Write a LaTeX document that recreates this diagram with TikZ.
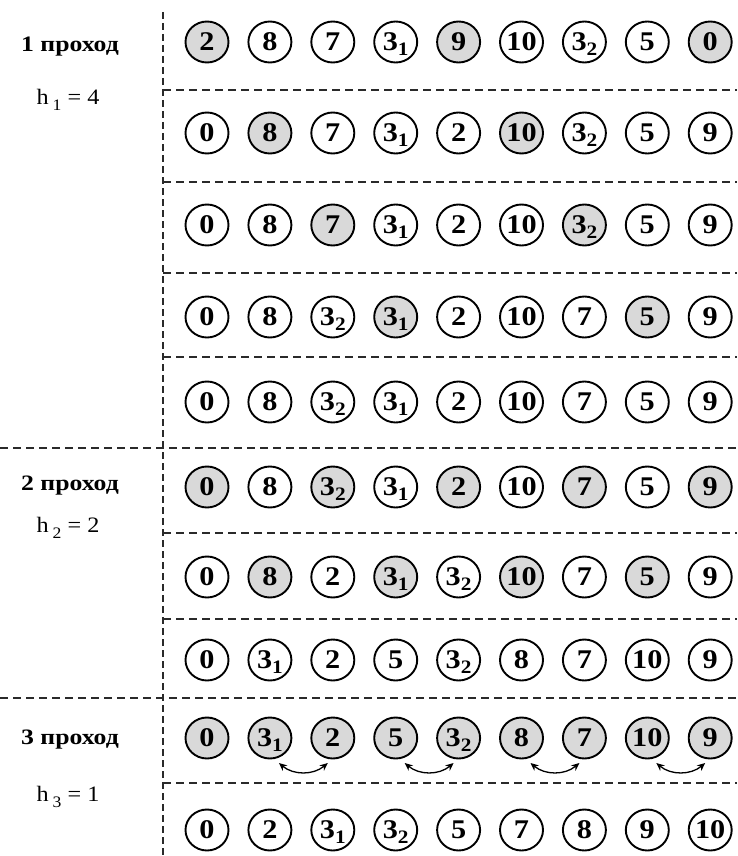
\documentclass[tikz,border=0pt]{standalone}
\usepackage{fontspec}
\setmainfont{Liberation Serif}
\usetikzlibrary{arrows.meta,shapes.geometric}
\newcommand{\sbi}[1]{\smash{\raisebox{-0.17em}{\fontsize{19}{19}\selectfont #1}}}
\newcommand{\numtxt}[1]{\makebox[0pt]{\scalebox{1.12}[1]{#1}}}
\definecolor{cellgray}{HTML}{D9D9D9}
\definecolor{linegray}{HTML}{2A2A2A}
\begin{document}
\begin{tikzpicture}[x=1pt,y=-1pt,
  cellbase/.style={ellipse, draw=black, line width=1.9pt, minimum width=43pt, minimum height=41pt, inner sep=0pt, font=\bfseries\fontsize{27}{27}\selectfont},
  cell0/.style={cellbase, fill=white},
  cell1/.style={cellbase, fill=cellgray},
  sep/.style={draw=linegray, line width=1.7pt, dash pattern=on 8pt off 5pt},
  vsep/.style={draw=linegray, line width=1.7pt, dash pattern=on 7pt off 4pt},
  pass/.style={font=\bfseries\fontsize{22}{22}\selectfont, inner sep=0pt},
  hlab/.style={font=\fontsize{22}{22}\selectfont, inner sep=0pt},
  swap/.style={line width=1.3pt, {Stealth[length=8pt,width=7pt]}-{Stealth[length=8pt,width=7pt]}}
]
\useasboundingbox (0,0) rectangle (737,856);
% separators
\coordinate (vt) at (163,12);
\coordinate (vb) at (163,856);
\draw[vsep] (vt) -- (vb);
\foreach \yy in {90,182,273,357,533,619,783}{
  \coordinate (sl\yy) at (163,\yy);
  \coordinate (sr\yy) at (737,\yy);
  \draw[sep] (sl\yy) -- (sr\yy);
}
\foreach \yy in {448,698}{
  \coordinate (fl\yy) at (0,\yy);
  \coordinate (fr\yy) at (737,\yy);
  \draw[sep] (fl\yy) -- (fr\yy);
}
% cells
\foreach \r/\yy/\items in {
 1/42/{2/1,8/0,7/0,3\sbi{1}/0,9/1,10/0,3\sbi{2}/0,5/0,0/1},
 2/133/{0/0,8/1,7/0,3\sbi{1}/0,2/0,10/1,3\sbi{2}/0,5/0,9/0},
 3/225/{0/0,8/0,7/1,3\sbi{1}/0,2/0,10/0,3\sbi{2}/1,5/0,9/0},
 4/317/{0/0,8/0,3\sbi{2}/0,3\sbi{1}/1,2/0,10/0,7/0,5/1,9/0},
 5/402/{0/0,8/0,3\sbi{2}/0,3\sbi{1}/0,2/0,10/0,7/0,5/0,9/0},
 6/487/{0/1,8/0,3\sbi{2}/1,3\sbi{1}/0,2/1,10/0,7/1,5/0,9/1},
 7/577/{0/0,8/1,2/0,3\sbi{1}/1,3\sbi{2}/0,10/1,7/0,5/1,9/0},
 8/660/{0/0,3\sbi{1}/0,2/0,5/0,3\sbi{2}/0,8/0,7/0,10/0,9/0},
 9/738/{0/1,3\sbi{1}/1,2/1,5/1,3\sbi{2}/1,8/1,7/1,10/1,9/1},
 10/830/{0/0,2/0,3\sbi{1}/0,3\sbi{2}/0,5/0,7/0,8/0,9/0,10/0}}{
  \foreach \v/\f [count=\c] in \items {
    \pgfmathsetmacro\xx{207+62.9*(\c-1)}
    \node[cell\f] (r\r c\c) at (\xx,\yy) {\numtxt{\v}};
  }
}
% swaps
\foreach \a/\b in {2/3,4/5,6/7,8/9}{
  \draw[swap] ([shift={(9,25)}]r9c\a.center) to[bend right=40] ([shift={(-5,25)}]r9c\b.center);
}
% labels
\node[pass] (p1) at (70,47) {\scalebox{1.17}[1]{1 проход}};
\node[hlab] (h1) at (68,100) {\scalebox{1.1}[1]{h\,\raisebox{-0.3em}{\fontsize{16}{16}\selectfont 1} = 4}};
\node[pass] (p2) at (70,486) {\scalebox{1.17}[1]{2 проход}};
\node[hlab] (h2) at (68,528) {\scalebox{1.1}[1]{h\,\raisebox{-0.3em}{\fontsize{16}{16}\selectfont 2} = 2}};
\node[pass] (p3) at (70,740) {\scalebox{1.17}[1]{3 проход}};
\node[hlab] (h3) at (68,797) {\scalebox{1.1}[1]{h\,\raisebox{-0.3em}{\fontsize{16}{16}\selectfont 3} = 1}};
\end{tikzpicture}
\end{document}
